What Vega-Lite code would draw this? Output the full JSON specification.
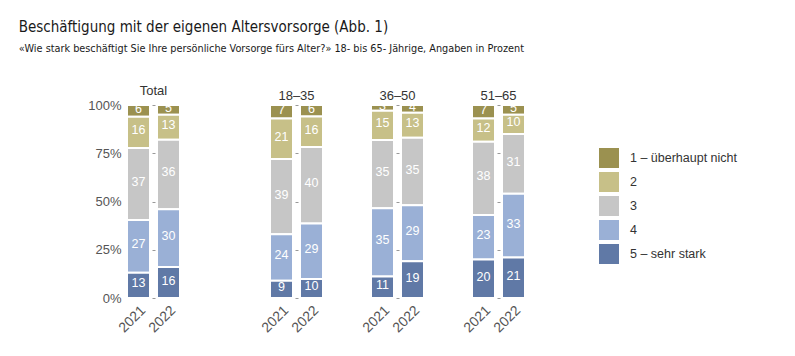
{
  "$schema": "https://vega.github.io/schema/vega-lite/v6.json",
  "padding": {"left": 18, "top": 20, "right": 5, "bottom": 5},
  "background": "white",
  "bounds": "flush",
  "spacing": 90,
  "title": {
    "text": "Beschäftigung mit der eigenen Altersvorsorge  (Abb. 1)",
    "subtitle": "«Wie stark beschäftigt Sie Ihre persönliche Vorsorge fürs Alter?» 18- bis 65- Jährige, Angaben in Prozent",
    "anchor": "start",
    "frame": "bounds",
    "dx": -69,
    "font": "Liberation Sans Narrow, DejaVu Sans Condensed, sans-serif",
    "fontSize": 15,
    "fontWeight": "normal",
    "color": "#1a1a1a",
    "subtitleFont": "Liberation Sans Narrow, DejaVu Sans Condensed, sans-serif",
    "subtitleFontSize": 10.8,
    "subtitleColor": "#1a1a1a",
    "subtitlePadding": 8,
    "offset": 31
  },
  "datasets": {
    "d": [
      {"group": "Total", "year": "2021", "level": 1, "label": "1 – überhaupt nicht", "value": 6},
      {"group": "Total", "year": "2021", "level": 2, "label": "2", "value": 16},
      {"group": "Total", "year": "2021", "level": 3, "label": "3", "value": 37},
      {"group": "Total", "year": "2021", "level": 4, "label": "4", "value": 27},
      {"group": "Total", "year": "2021", "level": 5, "label": "5 – sehr stark", "value": 13},
      {"group": "Total", "year": "2022", "level": 1, "label": "1 – überhaupt nicht", "value": 5},
      {"group": "Total", "year": "2022", "level": 2, "label": "2", "value": 13},
      {"group": "Total", "year": "2022", "level": 3, "label": "3", "value": 36},
      {"group": "Total", "year": "2022", "level": 4, "label": "4", "value": 30},
      {"group": "Total", "year": "2022", "level": 5, "label": "5 – sehr stark", "value": 16},
      {"group": "18–35", "year": "2021", "level": 1, "label": "1 – überhaupt nicht", "value": 7},
      {"group": "18–35", "year": "2021", "level": 2, "label": "2", "value": 21},
      {"group": "18–35", "year": "2021", "level": 3, "label": "3", "value": 39},
      {"group": "18–35", "year": "2021", "level": 4, "label": "4", "value": 24},
      {"group": "18–35", "year": "2021", "level": 5, "label": "5 – sehr stark", "value": 9},
      {"group": "18–35", "year": "2022", "level": 1, "label": "1 – überhaupt nicht", "value": 6},
      {"group": "18–35", "year": "2022", "level": 2, "label": "2", "value": 16},
      {"group": "18–35", "year": "2022", "level": 3, "label": "3", "value": 40},
      {"group": "18–35", "year": "2022", "level": 4, "label": "4", "value": 29},
      {"group": "18–35", "year": "2022", "level": 5, "label": "5 – sehr stark", "value": 10},
      {"group": "36–50", "year": "2021", "level": 1, "label": "1 – überhaupt nicht", "value": 3},
      {"group": "36–50", "year": "2021", "level": 2, "label": "2", "value": 15},
      {"group": "36–50", "year": "2021", "level": 3, "label": "3", "value": 35},
      {"group": "36–50", "year": "2021", "level": 4, "label": "4", "value": 35},
      {"group": "36–50", "year": "2021", "level": 5, "label": "5 – sehr stark", "value": 11},
      {"group": "36–50", "year": "2022", "level": 1, "label": "1 – überhaupt nicht", "value": 4},
      {"group": "36–50", "year": "2022", "level": 2, "label": "2", "value": 13},
      {"group": "36–50", "year": "2022", "level": 3, "label": "3", "value": 35},
      {"group": "36–50", "year": "2022", "level": 4, "label": "4", "value": 29},
      {"group": "36–50", "year": "2022", "level": 5, "label": "5 – sehr stark", "value": 19},
      {"group": "51–65", "year": "2021", "level": 1, "label": "1 – überhaupt nicht", "value": 7},
      {"group": "51–65", "year": "2021", "level": 2, "label": "2", "value": 12},
      {"group": "51–65", "year": "2021", "level": 3, "label": "3", "value": 38},
      {"group": "51–65", "year": "2021", "level": 4, "label": "4", "value": 23},
      {"group": "51–65", "year": "2021", "level": 5, "label": "5 – sehr stark", "value": 20},
      {"group": "51–65", "year": "2022", "level": 1, "label": "1 – überhaupt nicht", "value": 5},
      {"group": "51–65", "year": "2022", "level": 2, "label": "2", "value": 10},
      {"group": "51–65", "year": "2022", "level": 3, "label": "3", "value": 31},
      {"group": "51–65", "year": "2022", "level": 4, "label": "4", "value": 33},
      {"group": "51–65", "year": "2022", "level": 5, "label": "5 – sehr stark", "value": 21}
    ]
  },
  "hconcat": [
    {
      "width": 53, "height": 193,
      "title": {"text": "Total"},
      "data": {"name": "d"},
      "transform": [{"filter": "datum.group === 'Total'"}],
      "encoding": {
        "x": {"field": "year", "type": "nominal", "scale": {"paddingInner": 0.233, "paddingOuter": 0}, "axis": {"title": null, "labelAngle": -45, "ticks": false, "domain": false, "labelFontSize": 14, "labelColor": "#555", "labelPadding": 5}},
        "y": {"field": "value", "type": "quantitative", "stack": "normalize", "scale": {"domain": [0, 1]}, "axis": {"title": null, "format": "%", "values": [0, 0.25, 0.5, 0.75, 1], "ticks": false, "domain": false, "labelFontSize": 13, "labelColor": "#555", "labelPadding": 6, "grid": true, "gridDash": [0, 25, 3, 100], "gridColor": "#999"}},
        "order": {"field": "level", "sort": "descending"}
      },
      "layer": [
        {"mark": {"type": "bar", "stroke": "white", "strokeWidth": 2}, "encoding": {"color": {"field": "label", "type": "nominal", "scale": {"domain": ["1 – überhaupt nicht", "2", "3", "4", "5 – sehr stark"], "range": ["#9b9150", "#c7c088", "#c6c6c6", "#9ab0d6", "#6079a6"]}, "legend": {"title": null, "orient": "none", "legendX": 472, "legendY": 43, "symbolType": "square", "symbolSize": 400, "symbolStrokeWidth": 0, "symbolOpacity": 1, "labelFontSize": 12.5, "labelColor": "#333", "labelOffset": 11, "rowPadding": 4}}}},
        {"mark": {"type": "text", "color": "white", "fontSize": 12.5, "baseline": "alphabetic", "dy": 2, "clip": true}, "encoding": {"text": {"field": "value"}, "detail": {"field": "level"}, "y": {"field": "value", "type": "quantitative", "stack": "normalize", "bandPosition": 0.5}}}
      ]
    },
    {
      "spacing": 48,
      "bounds": "flush",
      "hconcat": [
        {
          "width": 53, "height": 193,
          "title": {"text": "18–35"},
          "data": {"name": "d"},
          "transform": [{"filter": "datum.group === '18–35'"}],
          "encoding": {
            "x": {"field": "year", "type": "nominal", "scale": {"paddingInner": 0.233, "paddingOuter": 0}, "axis": {"title": null, "labelAngle": -45, "ticks": false, "domain": false, "labelFontSize": 14, "labelColor": "#555", "labelPadding": 5}},
            "y": {"field": "value", "type": "quantitative", "stack": "normalize", "scale": {"domain": [0, 1]}, "axis": {"title": null, "labels": false, "values": [0, 0.25, 0.5, 0.75, 1], "ticks": false, "domain": false, "grid": true, "gridDash": [0, 25, 3, 100], "gridColor": "#999"}},
            "order": {"field": "level", "sort": "descending"}
          },
          "layer": [
            {"mark": {"type": "bar", "stroke": "white", "strokeWidth": 2}, "encoding": {"color": {"field": "label", "type": "nominal"}}},
            {"mark": {"type": "text", "color": "white", "fontSize": 12.5, "baseline": "alphabetic", "dy": 2, "clip": true}, "encoding": {"text": {"field": "value"}, "detail": {"field": "level"}, "y": {"field": "value", "type": "quantitative", "stack": "normalize", "bandPosition": 0.5}}}
          ]
        },
        {
          "width": 53, "height": 193,
          "title": {"text": "36–50"},
          "data": {"name": "d"},
          "transform": [{"filter": "datum.group === '36–50'"}],
          "encoding": {
            "x": {"field": "year", "type": "nominal", "scale": {"paddingInner": 0.233, "paddingOuter": 0}, "axis": {"title": null, "labelAngle": -45, "ticks": false, "domain": false, "labelFontSize": 14, "labelColor": "#555", "labelPadding": 5}},
            "y": {"field": "value", "type": "quantitative", "stack": "normalize", "scale": {"domain": [0, 1]}, "axis": {"title": null, "labels": false, "values": [0, 0.25, 0.5, 0.75, 1], "ticks": false, "domain": false, "grid": true, "gridDash": [0, 25, 3, 100], "gridColor": "#999"}},
            "order": {"field": "level", "sort": "descending"}
          },
          "layer": [
            {"mark": {"type": "bar", "stroke": "white", "strokeWidth": 2}, "encoding": {"color": {"field": "label", "type": "nominal"}}},
            {"mark": {"type": "text", "color": "white", "fontSize": 12.5, "baseline": "alphabetic", "dy": 2, "clip": true}, "encoding": {"text": {"field": "value"}, "detail": {"field": "level"}, "y": {"field": "value", "type": "quantitative", "stack": "normalize", "bandPosition": 0.5}}}
          ]
        },
        {
          "width": 53, "height": 193,
          "title": {"text": "51–65"},
          "data": {"name": "d"},
          "transform": [{"filter": "datum.group === '51–65'"}],
          "encoding": {
            "x": {"field": "year", "type": "nominal", "scale": {"paddingInner": 0.233, "paddingOuter": 0}, "axis": {"title": null, "labelAngle": -45, "ticks": false, "domain": false, "labelFontSize": 14, "labelColor": "#555", "labelPadding": 5}},
            "y": {"field": "value", "type": "quantitative", "stack": "normalize", "scale": {"domain": [0, 1]}, "axis": {"title": null, "labels": false, "values": [0, 0.25, 0.5, 0.75, 1], "ticks": false, "domain": false, "grid": true, "gridDash": [0, 25, 3, 100], "gridColor": "#999"}},
            "order": {"field": "level", "sort": "descending"}
          },
          "layer": [
            {"mark": {"type": "bar", "stroke": "white", "strokeWidth": 2}, "encoding": {"color": {"field": "label", "type": "nominal"}}},
            {"mark": {"type": "text", "color": "white", "fontSize": 12.5, "baseline": "alphabetic", "dy": 2, "clip": true}, "encoding": {"text": {"field": "value"}, "detail": {"field": "level"}, "y": {"field": "value", "type": "quantitative", "stack": "normalize", "bandPosition": 0.5}}}
          ]
        }
      ]
    }
  ],
  "resolve": {"scale": {"color": "shared"}},
  "config": {
    "view": {"stroke": null},
    "font": "Liberation Sans",
    "title": {"fontSize": 13, "fontWeight": "normal", "color": "#333", "offset": 1},
    "axis": {"labelFont": "Liberation Sans"},
    "legend": {"labelFont": "Liberation Sans"}
  }
}
